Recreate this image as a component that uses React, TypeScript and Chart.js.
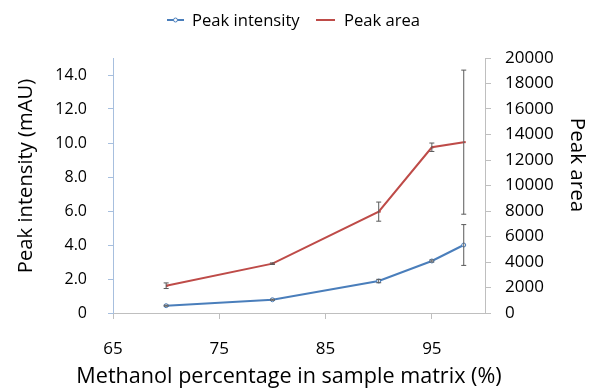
import React, { useEffect, useRef } from 'react';
import { Chart, registerables } from 'chart.js';

Chart.register(...registerables);

// ---- Data ----
const methanolPct = [70, 80, 90, 95, 98];
const peakIntensity = [0.43, 0.78, 1.88, 3.06, 4.0];
const peakIntensityErr = [0.03, 0.03, 0.1, 0.06, 1.2];
const peakArea = [2140, 3870, 7950, 13000, 13400];
const peakAreaErr = [220, 60, 750, 330, 5650];
const xTickValues = [65, 75, 85, 95];
const leftTickValues = [0, 2, 4, 6, 8, 10, 12, 14];
const rightTickValues = [0, 2000, 4000, 6000, 8000, 10000, 12000, 14000, 16000, 18000, 20000];

const seriesNames = ['Peak intensity', 'Peak area'];
const xTitle = 'Methanol percentage in sample matrix (%)';
const leftTitle = 'Peak intensity (mAU)';
const rightTitle = 'Peak area';

const BLUE = '#4a7ebb';
const RED = '#be4b48';
const FONT = '"Open Sans"';

const errorBarPlugin = {
  id: 'errorBars',
  afterDatasetsDraw(chart: any) {
    const ctx = chart.ctx;
    const xs = chart.scales.x;
    chart.data.datasets.forEach((ds: any) => {
      const ys = chart.scales[ds.yAxisID];
      const errs: number[] = ds.errors;
      if (!errs) return;
      ctx.save();
      ctx.strokeStyle = '#595959';
      ctx.lineWidth = 1;
      ds.data.forEach((p: any, i: number) => {
        const x = xs.getPixelForValue(p.x);
        const yTop = ys.getPixelForValue(p.y + errs[i]);
        const yBot = ys.getPixelForValue(p.y - errs[i]);
        ctx.beginPath();
        ctx.moveTo(x, yTop);
        ctx.lineTo(x, yBot);
        ctx.moveTo(x - 2.5, yTop);
        ctx.lineTo(x + 2.5, yTop);
        ctx.moveTo(x - 2.5, yBot);
        ctx.lineTo(x + 2.5, yBot);
        ctx.stroke();
      });
      ctx.restore();
    });
  },
};

const decorPlugin = {
  id: 'decor',
  afterDraw(chart: any) {
    const ctx = chart.ctx;
    ctx.save();
    // Legend
    const ly = 20;
    ctx.lineWidth = 2;
    ctx.strokeStyle = BLUE;
    ctx.beginPath();
    ctx.moveTo(167, ly);
    ctx.lineTo(184, ly);
    ctx.stroke();
    ctx.lineWidth = 1;
    ctx.fillStyle = '#fff';
    ctx.beginPath();
    ctx.arc(175.5, ly, 2, 0, Math.PI * 2);
    ctx.fill();
    ctx.stroke();
    ctx.lineWidth = 2;
    ctx.strokeStyle = RED;
    ctx.beginPath();
    ctx.moveTo(316, ly);
    ctx.lineTo(335, ly);
    ctx.stroke();
    ctx.fillStyle = '#000';
    ctx.font = `16.6px ${FONT}`;
    ctx.textBaseline = 'middle';
    ctx.textAlign = 'left';
    ctx.fillText(seriesNames[0], 192, ly + 1);
    ctx.fillText(seriesNames[1], 344, ly + 1);

    // Axis titles
    ctx.textAlign = 'center';
    ctx.textBaseline = 'middle';
    ctx.font = `21.6px ${FONT}`;
    ctx.fillText(xTitle, 289, 377);

    ctx.font = `20.2px ${FONT}`;
    ctx.save();
    ctx.translate(26, 176);
    ctx.rotate(-Math.PI / 2);
    ctx.fillText(leftTitle, 0, 0);
    ctx.restore();

    ctx.font = `20.6px ${FONT}`;
    ctx.save();
    ctx.translate(577, 165);
    ctx.rotate(Math.PI / 2);
    ctx.fillText(rightTitle, 0, 0);
    ctx.restore();

    ctx.restore();
  },
};

export default function App() {
  const ref = useRef<HTMLCanvasElement>(null);

  useEffect(() => {
    if (!ref.current) return;
    const chart = new Chart(ref.current, {
      type: 'line',
      data: {
        datasets: [
          {
            label: seriesNames[0],
            data: methanolPct.map((x, i) => ({ x, y: peakIntensity[i] })),
            errors: peakIntensityErr,
            yAxisID: 'y',
            borderColor: BLUE,
            backgroundColor: '#ffffff',
            borderWidth: 2,
            pointRadius: 2,
            pointBorderWidth: 1,
            pointBorderColor: BLUE,
            pointBackgroundColor: '#ffffff',
            tension: 0,
          } as any,
          {
            label: seriesNames[1],
            data: methanolPct.map((x, i) => ({ x, y: peakArea[i] })),
            errors: peakAreaErr,
            yAxisID: 'y1',
            borderColor: RED,
            backgroundColor: RED,
            borderWidth: 2,
            pointStyle: 'dash',
            pointRadius: 2,
            pointBorderColor: RED,
            tension: 0,
          } as any,
        ],
      },
      options: {
        animation: false,
        responsive: false,
        layout: { padding: { top: 58, left: 0, right: 0, bottom: 0 } },
        plugins: {
          legend: { display: false },
          tooltip: { enabled: false },
        },
        scales: {
          x: {
            type: 'linear',
            position: 'bottom',
            min: 65,
            max: 100,
            afterBuildTicks: (s: any) => {
              s.ticks = xTickValues.map((v) => ({ value: v }));
            },
            afterFit: (s: any) => {
              s.height = 76;
            },
            grid: { drawOnChartArea: false, drawTicks: true, tickLength: 6, color: '#bfbfbf' },
            border: { color: '#bfbfbf', width: 1 },
            ticks: {
              color: '#000',
              padding: 20,
              font: { family: FONT, size: 17 },
              callback: (v: any) => String(v),
            },
          },
          y: {
            type: 'linear',
            position: 'left',
            min: 0,
            max: 15,
            afterBuildTicks: (s: any) => {
              s.ticks = leftTickValues.map((v) => ({ value: v }));
            },
            afterFit: (s: any) => {
              s.width = 113;
            },
            grid: { drawOnChartArea: false, drawTicks: true, tickLength: 5, color: '#a7bfde' },
            border: { color: '#a7bfde', width: 1 },
            ticks: {
              color: '#000',
              padding: 21,
              font: { family: FONT, size: 16 },
              callback: (v: any) => (v === 0 ? '0' : Number(v).toFixed(1)),
            },
          },
          y1: {
            type: 'linear',
            position: 'right',
            min: 0,
            max: 20000,
            afterBuildTicks: (s: any) => {
              s.ticks = rightTickValues.map((v) => ({ value: v }));
            },
            afterFit: (s: any) => {
              s.width = 105;
            },
            grid: { drawOnChartArea: false, drawTicks: true, tickLength: 6, color: '#bfbfbf' },
            border: { color: '#bfbfbf', width: 1 },
            ticks: {
              color: '#000',
              padding: 14,
              font: { family: FONT, size: 17 },
              callback: (v: any) => String(v),
            },
          },
        },
      } as any,
      plugins: [errorBarPlugin, decorPlugin],
    });
    return () => chart.destroy();
  }, []);

  return (
    <div style={{ position: 'absolute', left: 0, top: 0, width: 590, height: 389, background: '#fff' }}>
      <canvas ref={ref} width={590} height={389} />
    </div>
  );
}
